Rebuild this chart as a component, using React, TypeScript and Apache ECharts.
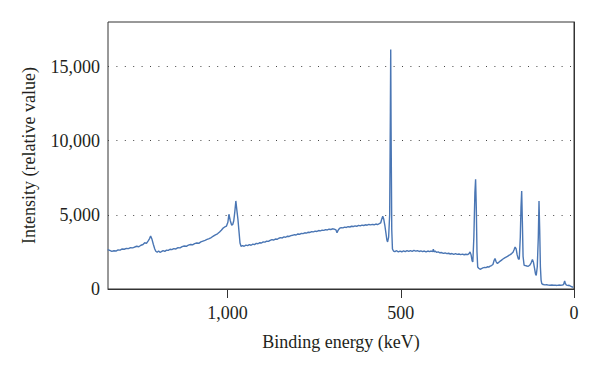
import React, { useEffect, useRef } from "react";
import * as echarts from "echarts";

// Binding energy (keV)
const energy = [
  1346, 1340, 1334, 1328, 1322, 1316, 1310, 1304, 1298, 1292, 1286, 1280, 1274, 1268, 1262, 1256,
  1250, 1244, 1239, 1234, 1229, 1225, 1222, 1218, 1214, 1210, 1207, 1203, 1199, 1195, 1191, 1186,
  1181, 1176, 1171, 1166, 1161, 1155, 1149, 1143, 1137, 1131, 1125, 1119, 1113, 1107, 1101, 1095,
  1089, 1083, 1077, 1071, 1065, 1059, 1053, 1047, 1041, 1035, 1029, 1023, 1018, 1013, 1008, 1003,
  999, 996, 992, 988, 985, 982, 979, 976, 973, 970, 967, 964, 961, 957, 952, 947,
  942, 937, 932, 927, 922, 917, 912, 907, 902, 897, 892, 887, 882, 877, 872, 867,
  862, 857, 852, 847, 842, 837, 832, 827, 822, 817, 812, 807, 802, 797, 792, 787,
  782, 777, 772, 767, 762, 757, 752, 747, 742, 737, 732, 727, 722, 717, 712, 707,
  702, 697, 692, 687, 684, 681, 677, 672, 667, 662, 657, 652, 647, 642, 637, 632,
  627, 622, 617, 612, 607, 602, 597, 592, 587, 582, 577, 572, 567, 562, 558, 555,
  552, 549, 546, 543, 540, 538, 535, 532, 530, 529, 528, 526, 524, 521, 517, 512,
  507, 502, 497, 492, 487, 482, 477, 472, 467, 462, 457, 452, 447, 442, 437, 432,
  427, 422, 417, 412, 408, 406, 404, 401, 397, 392, 387, 382, 377, 372, 367, 362,
  357, 352, 347, 342, 337, 332, 327, 322, 317, 312, 307, 303, 300, 297, 294, 292,
  289, 286, 284, 282, 280, 278, 275, 271, 267, 263, 258, 254, 250, 246, 242, 238,
  234, 231, 228, 225, 221, 217, 213, 209, 205, 200, 196, 192, 188, 184, 180, 176,
  173, 170, 167, 164, 161, 158, 155, 153, 151, 149, 147, 144, 140, 136, 132, 128,
  124, 120, 117, 114, 111, 109, 106, 103, 101, 99, 97, 95, 93, 89, 84, 79,
  74, 69, 64, 59, 54, 49, 44, 39, 34, 30, 27, 25, 22, 18, 14, 10,
  6, 2,
];

// Intensity (relative value)
const intensity = [
  2657, 2600, 2540, 2580, 2560, 2640, 2620, 2700, 2680, 2740, 2720, 2790, 2770, 2830, 2880, 2850,
  2950, 3000, 3120, 3080, 3250, 3400, 3575, 3350, 3000, 2700, 2543, 2480, 2560, 2470, 2520, 2590,
  2540, 2620, 2600, 2680, 2650, 2720, 2700, 2790, 2770, 2860, 2900, 2880, 2960, 3000, 2980, 3060,
  3100, 3080, 3180, 3230, 3280, 3340, 3400, 3470, 3560, 3650, 3720, 3840, 3960, 4100, 4180, 4240,
  4500, 5039, 4600, 4297, 4350, 4600, 5200, 5936, 5300, 4700, 3900, 3100, 2880, 2920, 2880, 2960,
  2920, 2990, 2950, 3030, 2990, 3080, 3050, 3120, 3100, 3180, 3160, 3230, 3210, 3280, 3330, 3300,
  3370, 3350, 3420, 3460, 3440, 3510, 3490, 3560, 3540, 3600, 3620, 3660, 3640, 3710, 3690, 3750,
  3730, 3790, 3770, 3830, 3810, 3870, 3850, 3900, 3880, 3940, 3920, 3970, 3950, 4000, 3980, 4030,
  4010, 4060, 4040, 3980, 3800, 3950, 4080, 4140, 4120, 4170, 4150, 4200, 4180, 4230, 4210, 4260,
  4230, 4290, 4260, 4310, 4280, 4330, 4300, 4350, 4320, 4360, 4330, 4380, 4340, 4400, 4450, 4700,
  4904, 4700, 4297, 3800, 3300, 3170, 3500, 5000, 12000, 16148, 11000, 4000, 2700, 2560, 2520, 2580,
  2500, 2560, 2510, 2570, 2520, 2580, 2530, 2590, 2540, 2600, 2550, 2580, 2530, 2570, 2520, 2560,
  2500, 2560, 2520, 2560, 2520, 2680, 2500, 2560, 2470, 2500, 2440, 2460, 2400, 2430, 2380, 2410,
  2360, 2390, 2340, 2380, 2330, 2360, 2320, 2350, 2310, 2340, 2320, 2380, 2496, 2300, 1900, 1821,
  3500, 6500, 7399, 5500, 2500, 1484, 1400, 1329, 1380, 1420, 1460, 1440, 1500, 1480, 1540, 1580,
  1650, 1900, 2050, 1850, 1713, 1800, 1880, 1950, 2020, 2100, 2150, 2200, 2270, 2320, 2388, 2480,
  2650, 2833, 2700, 2300, 2050, 2000, 3500, 5500, 6610, 4500, 2200, 1599, 1580, 1550, 1531, 1600,
  1750, 1983, 1800, 1400, 1000, 924, 1500, 3500, 5936, 4000, 1500, 600, 364, 300, 280, 290,
  260, 250, 270, 250, 260, 240, 265, 250, 270, 300, 540, 380, 260, 240, 250, 200,
  150, 115,
];

const xTicks = [0, 500, 1000];
const yTicks = [0, 5000, 10000, 15000];

const fmt = (v: number) => v.toLocaleString("en-US");

export default function App() {
  const ref = useRef<HTMLDivElement>(null);
  useEffect(() => {
    if (!ref.current) return;
    document.body.style.margin = "0";
    const chart = echarts.init(ref.current, null, { renderer: "svg" });
    const font = "'Liberation Serif', 'DejaVu Serif', serif";
    chart.setOption({
      animation: false,
      grid: {
        left: 108,
        right: 26,
        top: 22,
        bottom: 85,
        show: true,
        borderColor: "#333",
        borderWidth: 1,
        backgroundColor: "transparent",
      },
      xAxis: {
        type: "value",
        inverse: true,
        min: 0,
        max: 1345,
        interval: 500,
        name: "Binding energy (keV)",
        nameLocation: "middle",
        nameGap: 44,
        nameTextStyle: { fontFamily: font, fontSize: 18, color: "#231f20" },
        axisLine: { lineStyle: { color: "#333", width: 1 } },
        axisTick: { show: true, length: 9, customValues: xTicks, lineStyle: { color: "#333" } },
        axisLabel: {
          customValues: xTicks,
          formatter: fmt,
          margin: 15,
          fontFamily: font,
          fontSize: 18,
          color: "#231f20",
        },
        splitLine: { show: false },
      },
      yAxis: {
        type: "value",
        min: 0,
        max: 18000,
        interval: 5000,
        name: "Intensity (relative value)",
        nameLocation: "middle",
        nameGap: 70,
        nameTextStyle: { fontFamily: font, fontSize: 18, color: "#231f20" },
        axisLine: { show: true, lineStyle: { color: "#333", width: 1 } },
        axisTick: { show: false },
        axisLabel: {
          customValues: yTicks,
          formatter: fmt,
          margin: 8,
          fontFamily: font,
          fontSize: 18,
          color: "#231f20",
        },
        splitLine: {
          show: true,
          showMinLine: false,
          showMaxLine: false,
          lineStyle: { color: "#444", width: 1, type: [1, 7.4] },
        },
      },
      series: [
        {
          type: "line",
          data: energy.map((e, i) => [e, intensity[i]]),
          showSymbol: false,
          symbol: "none",
          lineStyle: { color: "#4a76b4", width: 1.4 },
        },
      ],
    });
    return () => chart.dispose();
  }, []);
  return <div ref={ref} style={{ width: 600, height: 374 }} />;
}
